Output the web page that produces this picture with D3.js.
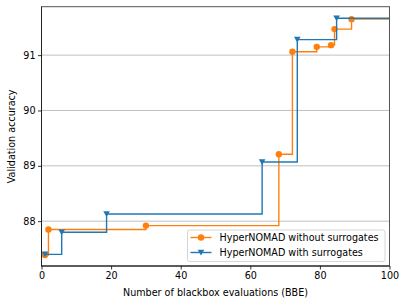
<!DOCTYPE html>
<html><head><meta charset="utf-8">
<script src="https://cdn.jsdelivr.net/npm/d3@7"></script>
<style>body{margin:0;background:#fff}svg{display:block}text{font-family:"DejaVu Sans",sans-serif}</style>
</head><body>
<script>
const seriesNames = ["HyperNOMAD without surrogates", "HyperNOMAD with surrogates"];
const noSurX = [1, 2, 30, 68.2, 72.1, 79.1, 83.2, 84.2, 89.1];
const noSurY = [87.39, 87.85, 87.92, 89.21, 91.06, 91.15, 91.18, 91.47, 91.65];
const surX = [1, 5.8, 18.7, 63.4, 73.5, 84.8];
const surY = [87.4, 87.8, 88.13, 89.07, 91.28, 91.665];
const xTicks = [0, 20, 40, 60, 80, 100];
const yTicks = [88, 89, 90, 91];
const xMax = 100;

const W = 399, H = 301;
const m = {l: 41.5, r: 9.5, t: 6.7, b: 35};
const svg = d3.select("body").append("svg").attr("width", W).attr("height", H);
const x = d3.scaleLinear().domain([0, 100]).range([m.l, W - m.r]);
const y = d3.scaleLinear().domain([87.19, 91.875]).range([H - m.b, m.t]);
const fs = 9.6;

// grid
svg.append("g").selectAll("line").data(yTicks).join("line")
  .attr("x1", m.l).attr("x2", W - m.r)
  .attr("y1", d => y(d)).attr("y2", d => y(d))
  .attr("stroke", "#b0b0b0").attr("stroke-width", 0.8);

const colors = ["#ff7f0e", "#1f77b4"];
function stepPts(xs, ys) {
  const pts = xs.map((v, i) => [v, ys[i]]);
  pts.push([xMax, ys[ys.length - 1]]);
  return pts;
}
const line = d3.line().x(d => x(d[0])).y(d => y(d[1])).curve(d3.curveStepAfter);

const data = [
  {xs: noSurX, ys: noSurY, c: colors[0], m: "circle"},
  {xs: surX, ys: surY, c: colors[1], m: "tri"}
];
svg.append("clipPath").attr("id", "cp").append("rect")
  .attr("x", m.l).attr("y", m.t).attr("width", W - m.l - m.r).attr("height", H - m.t - m.b);
const gp = svg.append("g").attr("clip-path", "url(#cp)");
const triPath = (cx, cy, s) => `M${cx - s},${cy - s * 0.85}L${cx + s},${cy - s * 0.85}L${cx},${cy + s * 0.9}Z`;

data.forEach(d => {
  gp.append("path").attr("d", line(stepPts(d.xs, d.ys)))
    .attr("fill", "none").attr("stroke", d.c).attr("stroke-width", 1.4);
  const pts = d.xs.map((v, i) => [v, d.ys[i]]);
  if (d.m === "circle") {
    gp.append("g").selectAll("circle").data(pts).join("circle")
      .attr("cx", p => x(p[0])).attr("cy", p => y(p[1])).attr("r", 3.2).attr("fill", d.c);
  } else {
    gp.append("g").selectAll("path").data(pts).join("path")
      .attr("d", p => triPath(x(p[0]), y(p[1]), 3.3)).attr("fill", d.c);
  }
});

// spines
svg.append("rect").attr("x", m.l).attr("y", m.t).attr("width", W - m.l - m.r).attr("height", H - m.t - m.b)
  .attr("fill", "none").attr("stroke", "#555").attr("stroke-width", 1);
svg.append("line").attr("x1", m.l).attr("x2", m.l).attr("y1", m.t).attr("y2", H - m.b).attr("stroke", "#222");
svg.append("line").attr("x1", m.l).attr("x2", W - m.r).attr("y1", H - m.b).attr("y2", H - m.b).attr("stroke", "#111");

// axes
const xa = svg.append("g").attr("transform", `translate(0,${H - m.b})`)
  .call(d3.axisBottom(x).tickValues(xTicks).tickSize(3.5).tickPadding(2.5).tickFormat(d3.format("d")));
const ya = svg.append("g").attr("transform", `translate(${m.l},0)`)
  .call(d3.axisLeft(y).tickValues(yTicks).tickSize(3.5).tickPadding(2.5).tickFormat(d3.format("d")));
[xa, ya].forEach(a => {
  a.select(".domain").remove();
  a.selectAll("text").attr("font-size", fs).attr("fill", "#000").attr("font-family", "DejaVu Sans");
  a.selectAll("line").attr("stroke", "#000").attr("stroke-width", 0.8);
});

svg.append("text").attr("x", (m.l + W - m.r) / 2).attr("y", 296).attr("text-anchor", "middle")
  .attr("font-size", fs).text("Number of blackbox evaluations (BBE)");
svg.append("text").attr("transform", `translate(15,${(m.t + H - m.b) / 2}) rotate(-90)`)
  .attr("text-anchor", "middle").attr("font-size", fs).text("Validation accuracy");

// legend
const lg = svg.append("g");
lg.append("rect").attr("x", 187.5).attr("y", 230).attr("width", 197.5).attr("height", 31.5).attr("rx", 2)
  .attr("fill", "#fff").attr("fill-opacity", 0.8).attr("stroke", "#ccc").attr("stroke-width", 0.8);
data.forEach((d, i) => {
  const cy = 237.5 + i * 15;
  lg.append("line").attr("x1", 190.5).attr("x2", 211.5).attr("y1", cy).attr("y2", cy)
    .attr("stroke", d.c).attr("stroke-width", 1.4);
  if (d.m === "circle") lg.append("circle").attr("cx", 201).attr("cy", cy).attr("r", 3.2).attr("fill", d.c);
  else lg.append("path").attr("d", triPath(201, cy, 3.3)).attr("fill", d.c);
  lg.append("text").attr("x", 219.5).attr("y", cy + 3.4).attr("font-size", fs).text(seriesNames[i]);
});
</script>
</body></html>
